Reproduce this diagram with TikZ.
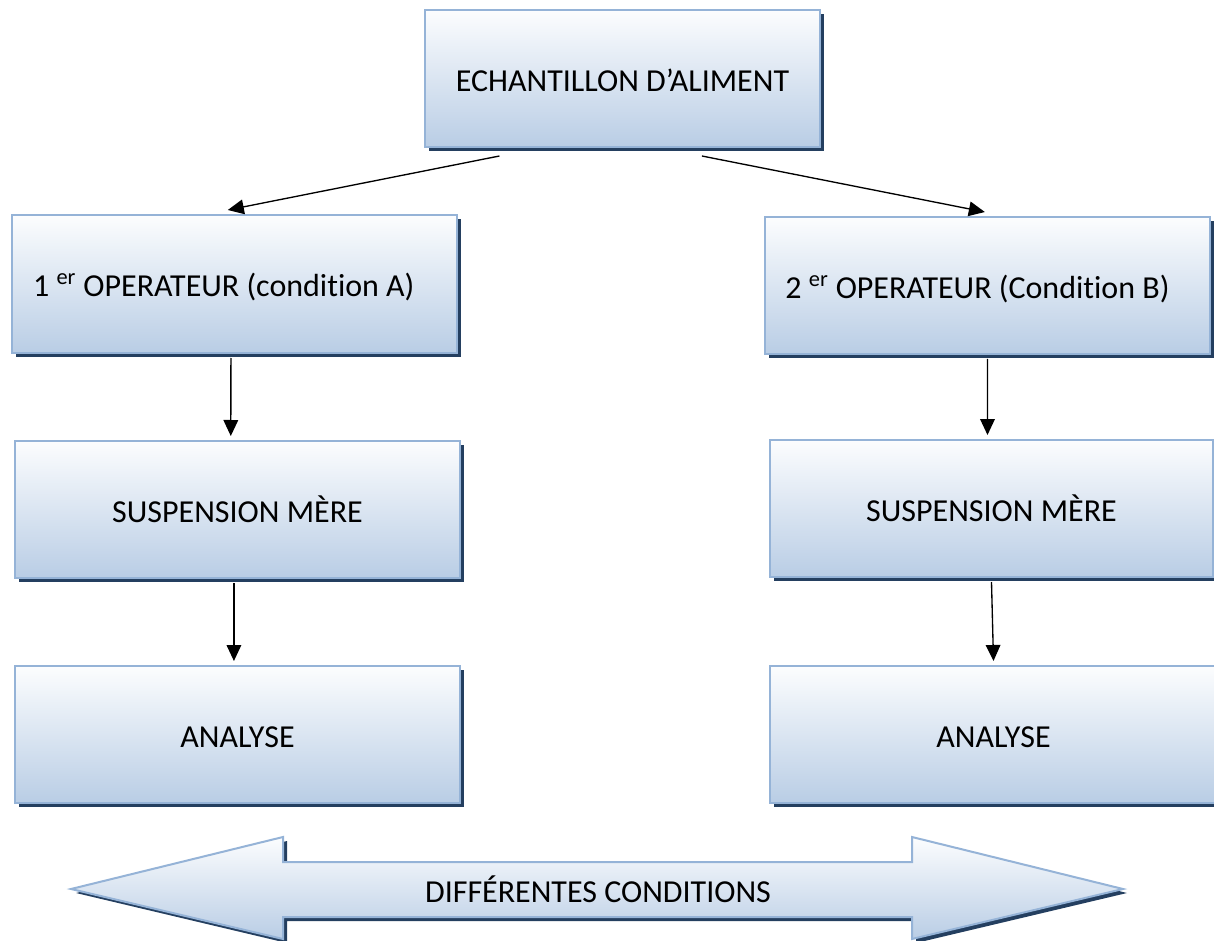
\documentclass[tikz,border=0pt]{standalone}
\usepackage{fontspec}
\setmainfont[Ligatures=NoCommon]{Carlito}
\usetikzlibrary{arrows.meta,shadows,calc}
\definecolor{bordblue}{HTML}{95B3D7}
\definecolor{shadblue}{HTML}{243F60}
\definecolor{topfill}{HTML}{FCFDFE}
\definecolor{botfill}{HTML}{B9CDE5}
\begin{document}
\begin{tikzpicture}[x=0.75pt,y=-0.75pt,
  box/.style={draw=bordblue, line width=1.5pt, top color=topfill, bottom color=botfill,
    inner sep=0pt, font=\fontsize{24}{29}\selectfont, text height=19.5pt, text depth=0pt,
    drop shadow={shadow xshift=3pt, shadow yshift=-3pt, fill=shadblue, opacity=1}},
  arr/.style={-{Triangle[length=12pt,width=11pt]}, line width=1pt, black},
  bigarrow/.style={draw=bordblue, line width=1.5pt, top color=topfill, bottom color=botfill,
    line join=miter},
  bigshadow/.style={fill=shadblue},
  lbl/.style={font=\fontsize{24}{29}\selectfont, inner sep=0pt}]
\useasboundingbox (0,0) rectangle (1214,941);

\node[box, minimum width=395*0.75pt, minimum height=137*0.75pt] (top) at (622.5,78.5) {ECHANTILLON D’ALIMENT};

\node[box, minimum width=445*0.75pt, minimum height=138*0.75pt] (a1) at (234.5,284) {1 \textsuperscript{er} OPERATEUR (condition A)\hspace*{16pt}};
\node[box, minimum width=445*0.75pt, minimum height=137*0.75pt] (a2) at (237.5,509.5) {SUSPENSION MÈRE};
\node[box, minimum width=445*0.75pt, minimum height=137*0.75pt] (a3) at (237.5,734.5) {ANALYSE};

\node[box, minimum width=445*0.75pt, minimum height=137*0.75pt] (b1) at (987.5,285.5) {2 \textsuperscript{er} OPERATEUR (Condition B)\hspace*{15pt}};
\node[box, minimum width=443*0.75pt, minimum height=137*0.75pt] (b2) at (991.5,508.5) {SUSPENSION MÈRE};
\node[box, minimum width=447*0.75pt, minimum height=137*0.75pt] (b3) at (993.5,734.5) {ANALYSE};

% connectors
\draw[arr] ($(top.south west)!0.19!(top.south east)+(0,8)$) -- ($(a1.north west)!0.485!(a1.north east)+(0,-4)$);
\draw[arr] ($(top.south west)!0.70!(top.south east)+(0,8)$) -- ($(b1.north west)!0.494!(b1.north east)+(0,-4)$);
\draw[arr] ($(a1.south west)!0.492!(a1.south east)+(0,4)$) -- ($(a2.north west)!0.485!(a2.north east)+(0,-4)$);
\draw[arr] ($(a2.south west)!0.492!(a2.south east)+(0,4)$) -- ($(a3.north west)!0.492!(a3.north east)+(0,-4)$);
\draw[arr] ($(b1.south west)!0.50!(b1.south east)+(0,4)$) -- ($(b2.north west)!0.491!(b2.north east)+(0,-4)$);
\draw[arr] ($(b2.south west)!0.50!(b2.south east)+(0,4)$) -- ($(b3.north west)!0.50!(b3.north east)+(0,-4)$);

% big double arrow
\fill[bigshadow] (76,893) -- (287,841) -- (287,866) -- (916,866) -- (916,841) -- (1127,893)
  -- (916,943) -- (916,921) -- (287,921) -- (287,943) -- cycle;
\path[bigarrow] (71,889) -- (283,837) -- (283,862) -- (912,862) -- (912,837) -- (1123,889)
  -- (912,939) -- (912,917) -- (283,917) -- (283,939) -- cycle;
\node[lbl] (cond) at (598,889) {DIFFÉRENTES CONDITIONS};
\end{tikzpicture}
\end{document}
